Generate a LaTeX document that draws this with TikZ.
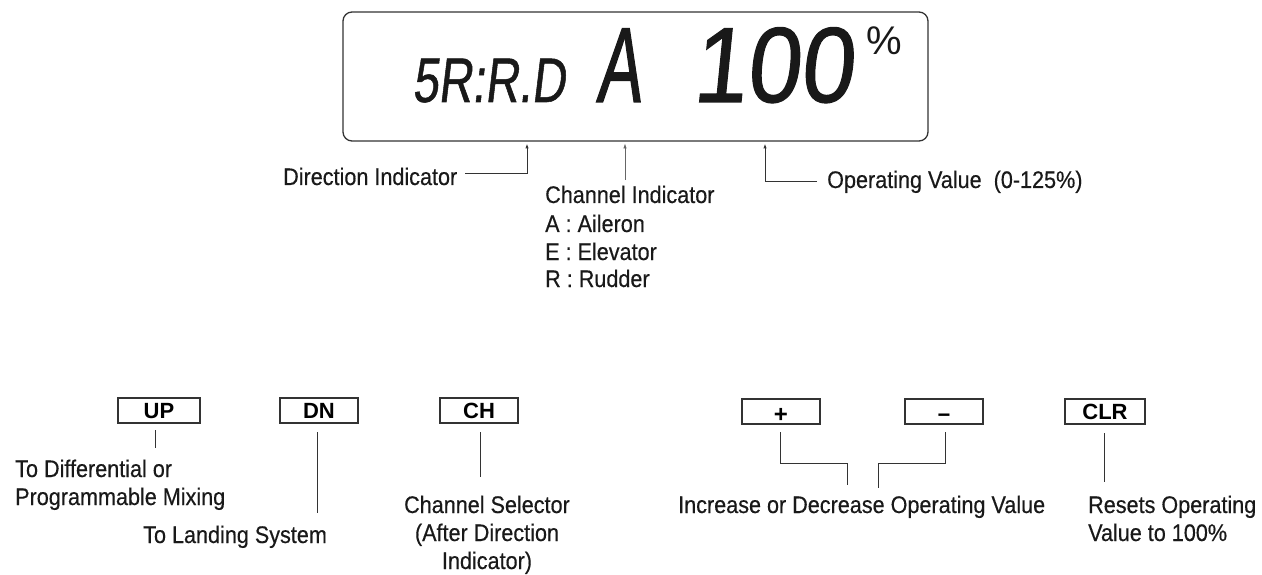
\documentclass[tikz,border=0pt]{standalone}
\usepackage{fontspec}
\setmainfont{Liberation Sans}
\newfontfamily\lbl[FakeStretch=0.9,FakeBold=0.4]{Liberation Sans}
\newfontfamily\lcdsmall[FakeStretch=0.74,FakeSlant=0.12,FakeBold=0.8]{Liberation Sans}
\newfontfamily\lcdbig[FakeStretch=0.62,FakeSlant=0.1,FakeBold=1]{Liberation Sans}
\newfontfamily\lcdnum[FakeStretch=0.9,FakeSlant=0.1,FakeBold=1]{Liberation Sans}
\usetikzlibrary{arrows.meta}
\begin{document}
\begin{tikzpicture}[x=1pt,y=-1pt,
  lab/.style={font=\lbl\fontsize{24}{28}\selectfont, text=black!90, inner sep=0, anchor=base west},
  labc/.style={lab, anchor=base},
  btn/.style={draw=black!80, line width=1.3pt, minimum width=80pt, minimum height=25pt,
    inner sep=0, text height=16pt, text depth=0pt, font=\bfseries\fontsize{22}{22}\selectfont},
  ln/.style={draw=black!80, line width=1pt},
  arr/.style={ln, -{Latex[length=5pt,width=3.5pt]}},
  lcdtext/.style={inner sep=0, anchor=base west, text=black!90}]
\useasboundingbox (0,0) rectangle (1262,575);

% display
\node[draw=black!80, line width=1.3pt, rounded corners=9pt, minimum width=585pt,
  minimum height=129pt, inner sep=0] (disp) at (635.5,76.5) {};
\node[lcdtext, font=\lcdsmall\fontsize{63}{63}\selectfont] (sr) at (412,102) {5R:R.D};
\node[lcdtext, font=\lcdbig\fontsize{107}{107}\selectfont] (ch) at (596,102) {A};
\node[lcdtext, font=\lcdnum\fontsize{107}{107}\selectfont] (val) at (692,102) {100};
\node[lcdtext, font=\fontsize{40}{40}\selectfont] (pct) at (866,55) {\%};

% top labels
\node[lab] (dirl) at (283,185) {Direction Indicator};
\node[lab] (chl) at (545,203) {Channel Indicator};
\node[lab] (chA) at (545,232) {A : Aileron};
\node[lab] (chE) at (545,260) {E : Elevator};
\node[lab] (chR) at (545,287) {R : Rudder};
\node[lab] (opl) at (827,188) {Operating Value \ (0-125\%)};

\coordinate (d0) at (465,174);
\coordinate (d1) at (527,143.5);
\draw[arr] (d0) -| (d1);
\coordinate (c0) at (625,180);
\coordinate (c1) at (625,143.5);
\draw[arr, line width=0.6pt, draw=black!60] (c0) -- (c1);
\coordinate (o0) at (817,182);
\coordinate (o1) at (765,143.5);
\draw[arr] (o0) -| (o1);

% buttons
\node[btn, minimum width=82pt] (up) at (159,410.5) {UP};
\node[btn, minimum width=78pt] (dn) at (319,410.5) {DN};
\node[btn, minimum width=78pt] (chb) at (479,410.5) {CH};
\node[btn, minimum width=78pt] (plus) at (781,411.5) {\raisebox{-3pt}{\fontsize{24}{24}\selectfont +}};
\node[btn, minimum width=78pt] (minus) at (944,411.5) {\raisebox{-3pt}{−}};
\node[btn, minimum width=80pt] (clr) at (1105,411.5) {CLR};

% bottom labels
\node[lab] (upl1) at (15,477) {To Differential or};
\node[lab] (upl2) at (15,505) {Programmable Mixing};
\node[lab] (dnl) at (143,543) {To Landing System};
\node[labc] (chs1) at (487,513) {Channel Selector};
\node[labc] (chs2) at (487,541) {(After Direction};
\node[labc] (chs3) at (487,569) {Indicator)};
\node[lab] (incl) at (678,513) {Increase or Decrease Operating Value};
\node[lab] (rs1) at (1088,513) {Resets Operating};
\node[lab] (rs2) at (1088,541) {Value to 100\%};

% bottom connectors
\coordinate (u0) at (155,430); \coordinate (u1) at (155,448);
\draw[ln] (u0) -- (u1);
\coordinate (n0) at (317,432); \coordinate (n1) at (317,513);
\draw[ln] (n0) -- (n1);
\coordinate (h0) at (480,432); \coordinate (h1) at (480,477);
\draw[ln] (h0) -- (h1);
\coordinate (p0) at (780,432); \coordinate (p1) at (847,485);
\draw[ln] (p0) |- (847,463) -- (p1);
\coordinate (m0) at (945,432); \coordinate (m1) at (878,488);
\draw[ln] (m0) |- (878,463) -- (m1);
\coordinate (r0) at (1104,433); \coordinate (r1) at (1104,482);
\draw[ln] (r0) -- (r1);
\end{tikzpicture}
\end{document}
